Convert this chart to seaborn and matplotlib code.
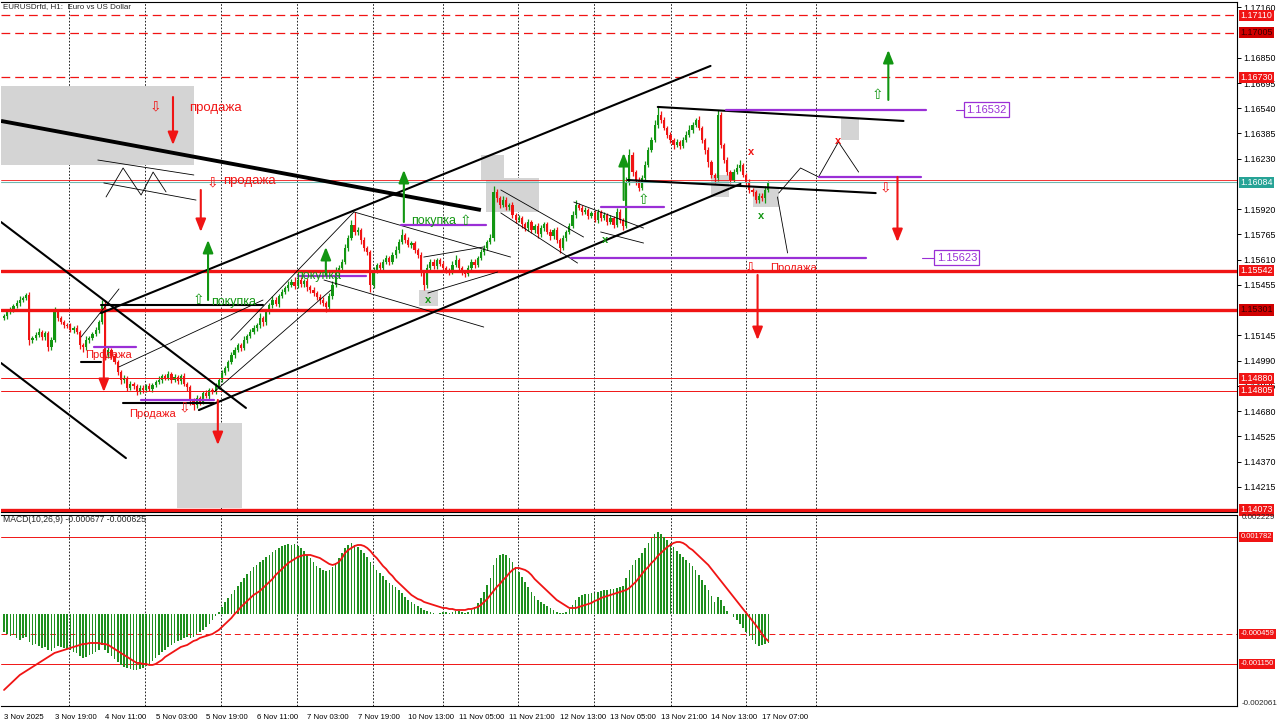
import numpy as np
import matplotlib
matplotlib.use("Agg")
import matplotlib.pyplot as plt
import matplotlib.transforms as mtransforms
from matplotlib.patches import Rectangle
import seaborn as sns

# ---- price data (H1 bars), closes in points above 1.14000 ----
close_pts = [
    1264, 1288, 1301, 1325, 1344, 1362, 1374, 1393, 1116, 1129,
    1147, 1166, 1135, 1159, 1073, 1116, 1288, 1251, 1227, 1208,
    1202, 1178, 1190, 1166, 1086, 1073, 1116, 1129, 1153, 1178,
    1227, 1325, 1024, 1055, 1018, 981, 920, 871, 883, 822,
    846, 834, 797, 822, 809, 834, 815, 840, 858, 871,
    895, 883, 908, 871, 889, 865, 895, 846, 828, 748,
    717, 760, 736, 791, 772, 809, 797, 834, 871, 914,
    944, 981, 1024, 1055, 1086, 1067, 1116, 1141, 1166, 1190,
    1208, 1251, 1227, 1288, 1331, 1362, 1338, 1387, 1411, 1436,
    1454, 1473, 1448, 1485, 1460, 1479, 1442, 1423, 1405, 1381,
    1362, 1344, 1319, 1387, 1454, 1534, 1559, 1596, 1682, 1743,
    1823, 1780, 1792, 1731, 1682, 1657, 1454, 1546, 1577, 1559,
    1596, 1620, 1596, 1638, 1669, 1718, 1761, 1731, 1700, 1712,
    1669, 1638, 1534, 1454, 1559, 1596, 1571, 1608, 1583, 1559,
    1546, 1534, 1577, 1608, 1559, 1534, 1522, 1559, 1596, 1577,
    1620, 1657, 1682, 1718, 1743, 2025, 1989, 1946, 1976, 1933,
    1946, 1884, 1854, 1866, 1829, 1804, 1841, 1792, 1817, 1767,
    1804, 1829, 1780, 1755, 1792, 1731, 1682, 1743, 1780, 1817,
    1884, 1946, 1927, 1903, 1915, 1878, 1896, 1854, 1903, 1866,
    1884, 1841, 1866, 1823, 1903, 1854, 1817, 2087, 2253, 2148,
    2099, 2050, 2111, 2191, 2284, 2345, 2437, 2499, 2468, 2419,
    2376, 2345, 2314, 2333, 2308, 2345, 2376, 2406, 2437, 2468,
    2419, 2345, 2284, 2210, 2130, 2111, 2499, 2314, 2222, 2148,
    2099, 2148, 2173, 2191, 2130, 2087, 2038, 2025, 1976, 2001,
    1989, 2038, 2080,
]
first_open = 1.15250
wick_up = [
    15, 10, 20, 12, 18, 25, 10, 15, 20, 12,
    18, 25, 10, 15, 12, 20, 30, 15, 10, 12,
    15, 20, 10, 18, 12, 15, 25, 10, 15, 20,
    12, 35, 40, 18, 15, 20, 12, 10, 18, 15,
    20, 12, 10, 15, 18, 12, 20, 15, 10, 25,
    15, 12, 20, 10, 18, 15, 12, 20, 10, 15,
    12, 18, 10, 15, 20, 12, 15, 18, 10, 20,
    15, 12, 20, 18, 10, 15, 25, 12, 18, 20,
    15, 30, 12, 20, 15, 25, 18, 12, 20, 15,
    25, 18, 30, 15, 20, 12, 18, 15, 20, 12,
    15, 18, 12, 20, 25, 30, 18, 20, 25, 20,
    30, 80, 20, 15, 18, 12, 15, 20, 12, 18,
    15, 20, 12, 18, 25, 20, 35, 15, 18, 12,
    15, 12, 20, 15, 25, 18, 20, 12, 15, 18,
    12, 15, 25, 30, 12, 15, 10, 18, 20, 15,
    12, 18, 20, 15, 25, 40, 20, 15, 25, 18,
    15, 20, 12, 18, 15, 12, 20, 15, 12, 18,
    20, 15, 12, 18, 15, 20, 12, 18, 15, 20,
    25, 30, 15, 18, 20, 12, 15, 18, 20, 15,
    18, 12, 20, 15, 25, 18, 12, 30, 35, 20,
    15, 18, 20, 25, 15, 20, 30, 50, 25, 20,
    15, 20, 12, 18, 15, 20, 25, 30, 20, 15,
    25, 15, 12, 18, 15, 12, 30, 20, 15, 18,
    15, 20, 25, 30, 15, 12, 18, 15, 12, 18,
    20, 25, 15,
]
wick_dn = [
    12, 18, 10, 15, 12, 20, 15, 10, 30, 18,
    15, 12, 20, 18, 25, 15, 12, 18, 15, 20,
    12, 15, 20, 12, 25, 30, 15, 18, 12, 15,
    18, 12, 30, 20, 18, 15, 20, 25, 18, 20,
    15, 20, 18, 12, 20, 15, 12, 18, 15, 12,
    18, 15, 12, 20, 15, 18, 20, 15, 25, 30,
    30, 18, 20, 15, 12, 20, 15, 12, 18, 15,
    12, 18, 15, 20, 12, 18, 15, 20, 12, 15,
    20, 15, 25, 18, 12, 20, 15, 18, 12, 15,
    18, 12, 20, 15, 18, 20, 25, 15, 20, 18,
    25, 20, 30, 15, 18, 12, 20, 15, 12, 18,
    15, 20, 18, 25, 20, 18, 40, 20, 15, 18,
    20, 15, 18, 12, 15, 18, 12, 20, 15, 18,
    20, 15, 25, 30, 18, 15, 20, 18, 15, 12,
    18, 20, 15, 12, 25, 18, 20, 15, 12, 18,
    15, 12, 18, 15, 12, 20, 25, 18, 15, 20,
    15, 20, 18, 12, 25, 20, 15, 18, 20, 25,
    18, 20, 15, 25, 18, 20, 30, 15, 18, 12,
    15, 18, 12, 20, 15, 18, 12, 15, 20, 18,
    15, 18, 12, 20, 15, 18, 25, 15, 20, 25,
    30, 20, 15, 18, 12, 15, 12, 18, 20, 15,
    18, 20, 25, 15, 20, 12, 15, 12, 18, 15,
    15, 20, 25, 30, 20, 30, 15, 20, 18, 15,
    20, 15, 12, 18, 15, 20, 18, 25, 20, 15,
    20, 30, 15,
]

# ---- MACD(10,26,9), values in 1e-6 ----
macd_main = [
    -415, -461, -507, -484, -553, -600, -553, -530, -646, -715,
    -692, -738, -784, -761, -830, -853, -784, -738, -761, -784,
    -807, -830, -876, -899, -968, -1015, -992, -945, -922, -876,
    -830, -715, -830, -899, -968, -1038, -1107, -1176, -1222, -1245,
    -1268, -1291, -1291, -1268, -1245, -1199, -1153, -1084, -1015, -945,
    -876, -830, -761, -715, -669, -623, -600, -553, -530, -553,
    -530, -461, -415, -369, -300, -231, -138, -46, 46, 161,
    277, 369, 461, 553, 646, 738, 830, 922, 992, 1084,
    1130, 1199, 1245, 1314, 1361, 1430, 1476, 1522, 1568, 1591,
    1614, 1591, 1614, 1568, 1522, 1453, 1361, 1291, 1199, 1107,
    1061, 1015, 992, 1015, 1084, 1176, 1291, 1407, 1522, 1591,
    1637, 1591, 1545, 1476, 1407, 1314, 1199, 1107, 1015, 945,
    876, 784, 715, 669, 623, 553, 484, 392, 323, 277,
    231, 184, 138, 92, 69, 46, 23, 8, 23, 46,
    46, 23, 46, 69, 69, 46, 23, 46, 92, 161,
    254, 369, 507, 669, 830, 1130, 1291, 1361, 1384, 1361,
    1291, 1199, 1084, 969, 853, 738, 623, 507, 415, 323,
    277, 231, 184, 138, 92, 46, 23, 23, 46, 115,
    208, 323, 392, 438, 461, 461, 484, 484, 507, 530,
    553, 553, 577, 577, 600, 623, 646, 830, 1015, 1130,
    1245, 1291, 1407, 1522, 1637, 1753, 1845, 1891, 1845, 1776,
    1706, 1637, 1545, 1453, 1384, 1314, 1245, 1176, 1107, 1015,
    899, 784, 669, 553, 415, 277, 392, 323, 184, 69,
    -10, -69, -138, -231, -323, -415, -507, -600, -692, -738,
    -715, -692, -677,
]
macd_signal = [
    -1753, -1683, -1614, -1545, -1476, -1407, -1361, -1314, -1268, -1222,
    -1176, -1130, -1084, -1038, -992, -945, -899, -876, -853, -830,
    -807, -784, -761, -738, -715, -692, -692, -669, -669, -669,
    -669, -692, -692, -715, -761, -807, -853, -899, -945, -992,
    -1038, -1084, -1130, -1130, -1153, -1153, -1176, -1176, -1153, -1107,
    -1061, -992, -945, -899, -853, -807, -761, -738, -715, -669,
    -623, -600, -553, -530, -507, -484, -461, -415, -369, -300,
    -231, -161, -92, 0, 69, 161, 231, 300, 369, 438,
    484, 530, 600, 669, 738, 807, 899, 969, 1038, 1107,
    1176, 1222, 1268, 1314, 1337, 1361, 1361, 1361, 1337, 1314,
    1291, 1245, 1199, 1153, 1130, 1153, 1199, 1291, 1407, 1476,
    1522, 1568, 1591, 1591, 1568, 1522, 1453, 1361, 1291, 1199,
    1107, 1038, 945, 876, 784, 715, 646, 577, 507, 438,
    392, 346, 323, 277, 254, 231, 208, 184, 161, 138,
    138, 115, 115, 92, 92, 92, 92, 115, 115, 138,
    161, 208, 277, 346, 438, 530, 623, 692, 784, 853,
    945, 1015, 1061, 1061, 1038, 1015, 969, 899, 807, 738,
    669, 600, 530, 461, 392, 323, 277, 231, 184, 138,
    138, 138, 161, 184, 208, 231, 254, 300, 323, 369,
    392, 415, 438, 461, 484, 507, 530, 553, 600, 669,
    738, 830, 922, 1015, 1084, 1176, 1245, 1337, 1407, 1476,
    1545, 1591, 1637, 1660, 1660, 1637, 1591, 1522, 1476, 1407,
    1337, 1268, 1199, 1130, 1038, 945, 853, 761, 669, 577,
    484, 392, 300, 208, 115, 23, -69, -161, -254, -346,
    -461, -553, -625,
]

# ---- axis labels ----
time_ticks = [0, 16, 32, 48, 64, 80, 96, 112, 128, 144, 160, 176, 192, 208, 224, 240]
time_labels = ["3 Nov 2025", "3 Nov 19:00", "4 Nov 11:00", "5 Nov 03:00", "5 Nov 19:00",
               "6 Nov 11:00", "7 Nov 03:00", "7 Nov 19:00", "10 Nov 13:00", "11 Nov 05:00",
               "11 Nov 21:00", "12 Nov 13:00", "13 Nov 05:00", "13 Nov 21:00", "14 Nov 13:00",
               "17 Nov 07:00"]
day_breaks = [20.6, 44.6, 68.7, 92.7, 116.8, 138.9, 162.7, 186.7, 211.1, 234.8, 257.0]
price_ticks = [1.14215, 1.14370, 1.14525, 1.14680, 1.14835, 1.14990, 1.15145,
               1.15455, 1.15610, 1.15765, 1.15920, 1.16230, 1.16385, 1.16540,
               1.16695, 1.16850, 1.17160]

# ---- levels ----
dashed_levels = [1.17110, 1.17005, 1.16730]
thick_levels = [1.15542, 1.15301, 1.14073]
thin_levels = [1.14880, 1.14805]
macd_levels = [0.001782, -0.000459, -0.001150]

# ---- drawn objects (bar index, price) ----
zones = [(-0.95, 60.1, 1.16191, 1.16677), (54.7, 75.3, 1.14084, 1.14606),
         (151.0, 158.2, 1.16099, 1.16253), (152.5, 169.3, 1.15903, 1.16111),
         (131.3, 137.3, 1.15325, 1.15423), (223.7, 229.4, 1.15995, 1.16130),
         (237.0, 245.3, 1.15933, 1.16056), (264.9, 270.6, 1.16345, 1.16480)]
heavy_lines = [(-0.95, 1.16462, 151.0, 1.15915)]
bold_lines = [(30.7, 1.15282, 223.7, 1.16800), (61.7, 1.14686, 233.2, 1.16075),
              (-0.95, 1.15841, 76.6, 1.14699), (-0.95, 1.14975, 38.6, 1.14391),
              (207.0, 1.16548, 284.8, 1.16462), (197.5, 1.16099, 276.0, 1.16019),
              (30.7, 1.15331, 82.0, 1.15331), (37.7, 1.14729, 66.5, 1.14729),
              (24.4, 1.14981, 30.7, 1.14981)]
thin_lines = [(24.4, 1.15135, 36.4, 1.15430), (36.4, 1.14951, 82.0, 1.15362),
              (66.5, 1.14797, 103.5, 1.15423), (71.8, 1.15116, 110.8, 1.15903),
              (110.8, 1.15903, 160.4, 1.15626), (101.3, 1.15485, 151.9, 1.15196),
              (132.9, 1.15626, 151.9, 1.15688), (134.2, 1.15405, 156.3, 1.15534),
              (157.3, 1.16038, 183.5, 1.15749), (157.3, 1.15897, 181.6, 1.15589),
              (180.4, 1.15964, 202.5, 1.15804), (188.9, 1.15780, 202.5, 1.15712),
              (29.7, 1.16222, 60.1, 1.16130), (31.6, 1.16081, 60.8, 1.15976),
              (244.9, 1.15995, 248.1, 1.15651)]
thin_paths = [[(32.3, 1.15995), (37.7, 1.16173), (43.4, 1.16007), (47.2, 1.16148), (51.3, 1.16026)],
              [(245.3, 1.16019), (252.2, 1.16173), (257.9, 1.16118), (264.2, 1.16333), (270.6, 1.16148)]]
purple_lines = [(228.5, 291.8, 1.16532), (257.9, 290.2, 1.16118), (179.4, 272.8, 1.15623),
                (125.6, 152.5, 1.15823), (188.9, 208.9, 1.15933), (93.0, 114.6, 1.15510),
                (28.5, 41.8, 1.15073), (43.4, 66.5, 1.14748)]
purple_tags = [("1.16532", 301.3, 304.7, 1.16532), ("1.15623", 290.8, 295.3, 1.15623)]
sell_arrows = [(53.5, 1.16609, 1.16314), (62.3, 1.16038, 1.15780), (31.6, 1.15055, 1.14797),
               (67.7, 1.14748, 1.14471), (282.9, 1.16118, 1.15718), (238.6, 1.15516, 1.15116)]
buy_arrows = [(64.6, 1.15362, 1.15731), (126.6, 1.15841, 1.16161), (101.9, 1.15516, 1.15688),
              (196.2, 1.15976, 1.16265), (280.0, 1.16591, 1.16898)]
sell_marks = [(48.1, 1.16548), (66.1, 1.16087), (57.0, 1.14699), (279.1, 1.16056), (236.4, 1.15565)]
buy_marks = [(61.4, 1.15362), (146.2, 1.15847), (276.6, 1.16621), (202.5, 1.15976)]
sell_texts = [("продажа", 58.5, 1.16541, 9.5), ("продажа", 69.3, 1.16093, 9.5),
              ("Продажа", 25.6, 1.15024, 8), ("Продажа", 39.6, 1.14662, 8),
              ("Продажа", 242.7, 1.15559, 8)]
buy_texts = [("покупка", 65.5, 1.15350, 9), ("покупка", 92.4, 1.15510, 9),
             ("покупка", 128.8, 1.15847, 9)]
cross_green = [(134.2, 1.15362), (190.2, 1.15731), (239.6, 1.15878)]
cross_red = [(236.4, 1.16271), (264.2, 1.16339)]

GREEN = "#129612"
RED = "#f01414"
PURPLE = "#9a2fd6"

sns.set_style("white")
plt.rcParams['font.family'] = ['Liberation Sans', 'DejaVu Sans']

bars = np.arange(len(close_pts))
close = 1.14 + np.array(close_pts) / 1e5
opens = np.concatenate([[first_open], close[:-1]])
high = np.maximum(opens, close) + np.array(wick_up) / 1e5
low = np.minimum(opens, close) - np.array(wick_dn) / 1e5
macd = np.array(macd_main) / 1e6
signal = np.array(macd_signal) / 1e6

fig = plt.figure(figsize=(12.8, 7.22), dpi=100)
ax = fig.add_axes([0.0008, 0.2909, 0.9656, 0.7064])
ax2 = fig.add_axes([0.0008, 0.0222, 0.9656, 0.2645])
XLIM = (-0.95, 390.4)

# --- main price pane ---
for d in day_breaks:
    ax.axvline(d, color="black", ls=(0, (2, 2)), lw=0.6, zorder=0.5)
    ax2.axvline(d, color="black", ls=(0, (2, 2)), lw=0.6, zorder=0.5)

for x0, x1, p0, p1 in zones:
    ax.add_patch(Rectangle((x0, p0), x1 - x0, p1 - p0, fc="#d4d4d4", ec="none", zorder=1))

col = np.where(close >= opens, GREEN, RED)
ax.vlines(bars, low, high, colors=col, lw=0.9, zorder=3)
ax.bar(bars, np.abs(close - opens) + 0.00002, bottom=np.minimum(opens, close) - 0.00001,
       width=0.7, color=col, linewidth=0, zorder=3)

for p in dashed_levels:
    ax.axhline(p, color=RED, ls=(0, (7, 4)), lw=0.9, zorder=4)
for p in thick_levels:
    ax.axhline(p, color=RED, lw=2.4, zorder=4)
for p in thin_levels:
    ax.axhline(p, color=RED, lw=0.7, zorder=4)
ax.axhline(1.16100, color=RED, lw=0.6, zorder=4)
ax.axhline(1.16084, color="#6fb8b0", lw=0.8, zorder=4)

for x0, p0, x1, p1 in heavy_lines:
    ax.plot([x0, x1], [p0, p1], color="black", lw=2.8, zorder=5, solid_capstyle="butt")
for x0, p0, x1, p1 in bold_lines:
    ax.plot([x0, x1], [p0, p1], color="black", lw=1.5, zorder=5)
for x0, p0, x1, p1 in thin_lines:
    ax.plot([x0, x1], [p0, p1], color="black", lw=0.6, zorder=5)
for path in thin_paths:
    ax.plot([q[0] for q in path], [q[1] for q in path], color="black", lw=0.6, zorder=5)

for x0, x1, p in purple_lines:
    ax.plot([x0, x1], [p, p], color=PURPLE, lw=1.6, zorder=5)
for txt, c0, c1, p in purple_tags:
    ax.plot([c0, c1], [p, p], color=PURPLE, lw=0.8, zorder=5)
    ax.text(c1, p, txt, color=PURPLE, fontsize=8, ha="left", va="center", zorder=6,
            bbox=dict(boxstyle="square,pad=0.2", fc="white", ec=PURPLE, lw=0.9))

astyle = "-|>,head_length=0.55,head_width=0.22"
for x, p0, p1 in sell_arrows:
    ax.annotate("", xy=(x, p1), xytext=(x, p0), zorder=6,
                arrowprops=dict(arrowstyle=astyle, color=RED, lw=1.5, mutation_scale=14,
                                shrinkA=0, shrinkB=0))
for x, p0, p1 in buy_arrows:
    ax.annotate("", xy=(x, p1), xytext=(x, p0), zorder=6,
                arrowprops=dict(arrowstyle=astyle, color=GREEN, lw=1.5, mutation_scale=14,
                                shrinkA=0, shrinkB=0))
for x, p in sell_marks:
    ax.text(x, p, "⇩", color=RED, fontsize=10, ha="center", va="center", zorder=6)
for x, p in buy_marks:
    ax.text(x, p, "⇧", color=GREEN, fontsize=10, ha="center", va="center", zorder=6)
for txt, x, p, fs in sell_texts:
    ax.text(x, p, txt, color=RED, fontsize=fs, ha="left", va="center", zorder=6)
for txt, x, p, fs in buy_texts:
    ax.text(x, p, txt, color=GREEN, fontsize=fs, ha="left", va="center", zorder=6)
for x, p in cross_green:
    ax.text(x, p, "x", color=GREEN, fontsize=8, fontweight="bold", ha="center", va="center", zorder=6)
for x, p in cross_red:
    ax.text(x, p, "x", color=RED, fontsize=8, fontweight="bold", ha="center", va="center", zorder=6)

ax.set_xlim(*XLIM)
ax.set_ylim(1.14060, 1.17193)
ax.set_xticks([])
ax.yaxis.tick_right()
ax.set_yticks(price_ticks)
ax.set_yticklabels([f"{p:.5f}" for p in price_ticks])
ax.tick_params(axis="y", labelsize=6.4, length=3, width=0.7, pad=1.5, colors="black")

tr = mtransforms.blended_transform_factory(ax.transAxes, ax.transData)
# red marker of the 1.16100 line, partly hidden under the bid label
ax.add_patch(Rectangle((1.0015, 1.16084), 0.028, 0.00034, transform=tr, fc=RED, ec="none",
                       clip_on=False, zorder=6.5))
box_levels = [(1.17110, RED, "white"), (1.17005, "#d00000", "#3a0000"), (1.16730, RED, "white"),
              (1.16084, "#27a396", "white"),
              (1.15542, RED, "white"), (1.15301, "#d00000", "#3a0000"), (1.14880, RED, "white"),
              (1.14805, RED, "white"), (1.14073, RED, "white")]
for p, c, tc in box_levels:
    ax.text(1.0028, p, f"{p:.5f}", transform=tr, fontsize=6.4, color=tc, ha="left",
            va="center", clip_on=False, zorder=7,
            bbox=dict(boxstyle="square,pad=0.14", fc=c, ec="none"))

# --- MACD pane ---
ax2.bar(bars, macd, width=0.5, color="#1f8f1f", linewidth=0, zorder=2)
sns.lineplot(x=bars, y=signal, ax=ax2, color=RED, linewidth=1.3, legend=False, zorder=3)
ax2.axhline(macd_levels[0], color=RED, lw=0.7, zorder=1)
ax2.axhline(macd_levels[1], color=RED, lw=0.7, ls=(0, (6, 4)), zorder=1)
ax2.axhline(macd_levels[2], color=RED, lw=0.7, zorder=1)
ax2.set_xlim(*XLIM)
ax2.set_ylim(-0.002122, 0.002283)
ax2.set_xlabel("")
ax2.set_ylabel("")
ax2.set_yticks([])
ax2.set_xticks(time_ticks)
ax2.set_xticklabels(time_labels, ha="left")
ax2.tick_params(axis="x", labelsize=5.6, length=4, width=0.7, pad=1.5, colors="black")

tr2 = mtransforms.blended_transform_factory(ax2.transAxes, ax2.transData)
for v in macd_levels:
    ax2.text(1.0028, v, f"{v:.6f}", transform=tr2, fontsize=5.5, color="white", ha="left",
             va="center", clip_on=False, zorder=7,
             bbox=dict(boxstyle="square,pad=0.18", fc=RED, ec="none"))
ax2.text(1.004, 0.002229, "0.002229", transform=tr2, fontsize=5.8, ha="left", va="center")
ax2.text(1.004, -0.002061, "-0.002061", transform=tr2, fontsize=5.8, ha="left", va="center")

for a in (ax, ax2):
    for s in a.spines.values():
        s.set_color("black")
        s.set_linewidth(0.8)
    a.spines["left"].set_visible(False)

fig.text(3 / 1280, 1 - 7 / 722, "EURUSDrfd, H1:  Euro vs US Dollar", fontsize=5.8, va="center")
fig.text(3 / 1280, 1 - 520 / 722, "MACD(10,26,9) -0.000677 -0.000625", fontsize=6.2, va="center")

fig.savefig("out.png", dpi=100, facecolor="white")
